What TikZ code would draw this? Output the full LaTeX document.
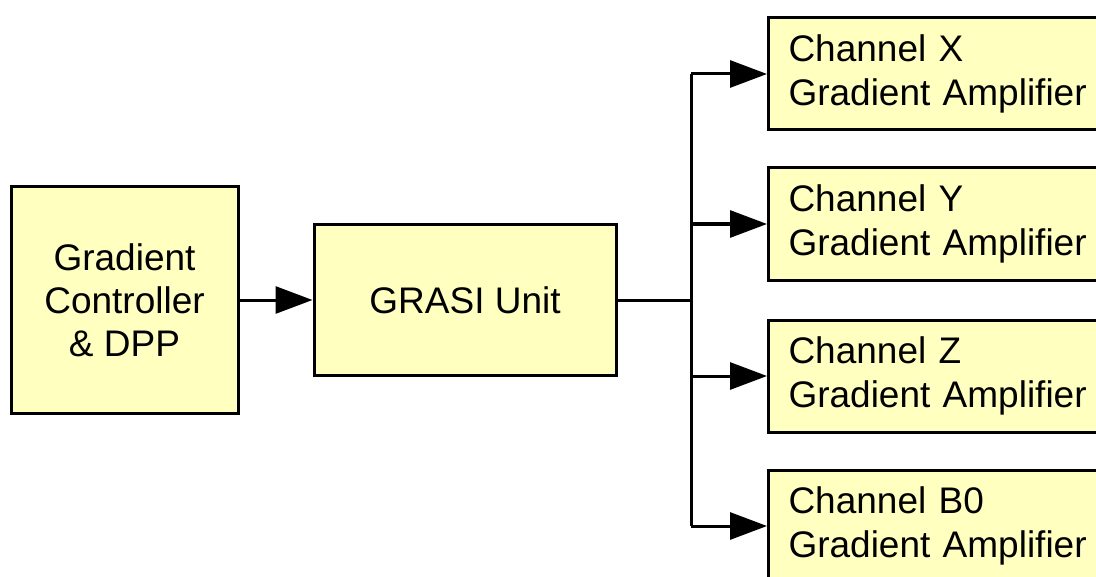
\documentclass[tikz,border=0pt]{standalone}
\usepackage{fontspec}
\setmainfont{Liberation Sans}
\usetikzlibrary{arrows.meta}
\definecolor{boxfill}{RGB}{255,255,192}
\begin{document}
\begin{tikzpicture}[x=0.5pt,y=-0.5pt,line width=1.5pt,
	block/.style={draw, fill=boxfill, align=center, inner sep=0pt,
		font=\fontsize{18.5}{21.5}\selectfont},
	amp/.style={block, anchor=west, align=left, inner xsep=10pt,
		text width=152pt, minimum height=56pt,
		font=\fontsize{18.5}{22}\selectfont},
	arr/.style={-{Triangle[length=18.5pt,width=13.5pt]}}]
	\useasboundingbox (0,0) rectangle (1096,577);
	\clip (0,0) rectangle (1096,577);
	\node (ctrl) at (124.5,300)	[block, minimum width=113.5pt, minimum height=113pt]	{Gradient\\Controller\\\& DPP};
	\node (grasi) at (465,300)	[block, minimum width=151pt, minimum height=75.5pt]	{GRASI Unit};
	\node (ampX) at (767,74)	[amp]	{Channel X\\Gradient Amplifier};
	\node (ampY) at (767,224)	[amp]	{Channel Y\\Gradient Amplifier};
	\node (ampZ) at (767,376)	[amp]	{Channel Z\\Gradient Amplifier};
	\node (ampB) at (767,526)	[amp]	{Channel B0\\Gradient Amplifier};
	\coordinate (split) at (691,300);
	\draw[arr] (ctrl) -- (grasi);
	\draw (grasi) -- (split);
	\draw (split |- ampX.west) -- (split |- ampB.west);
	\foreach \a in {ampX,ampY,ampZ,ampB}
		\draw[arr] (split |- \a.west) -- (\a.west);
\end{tikzpicture}
\end{document}
